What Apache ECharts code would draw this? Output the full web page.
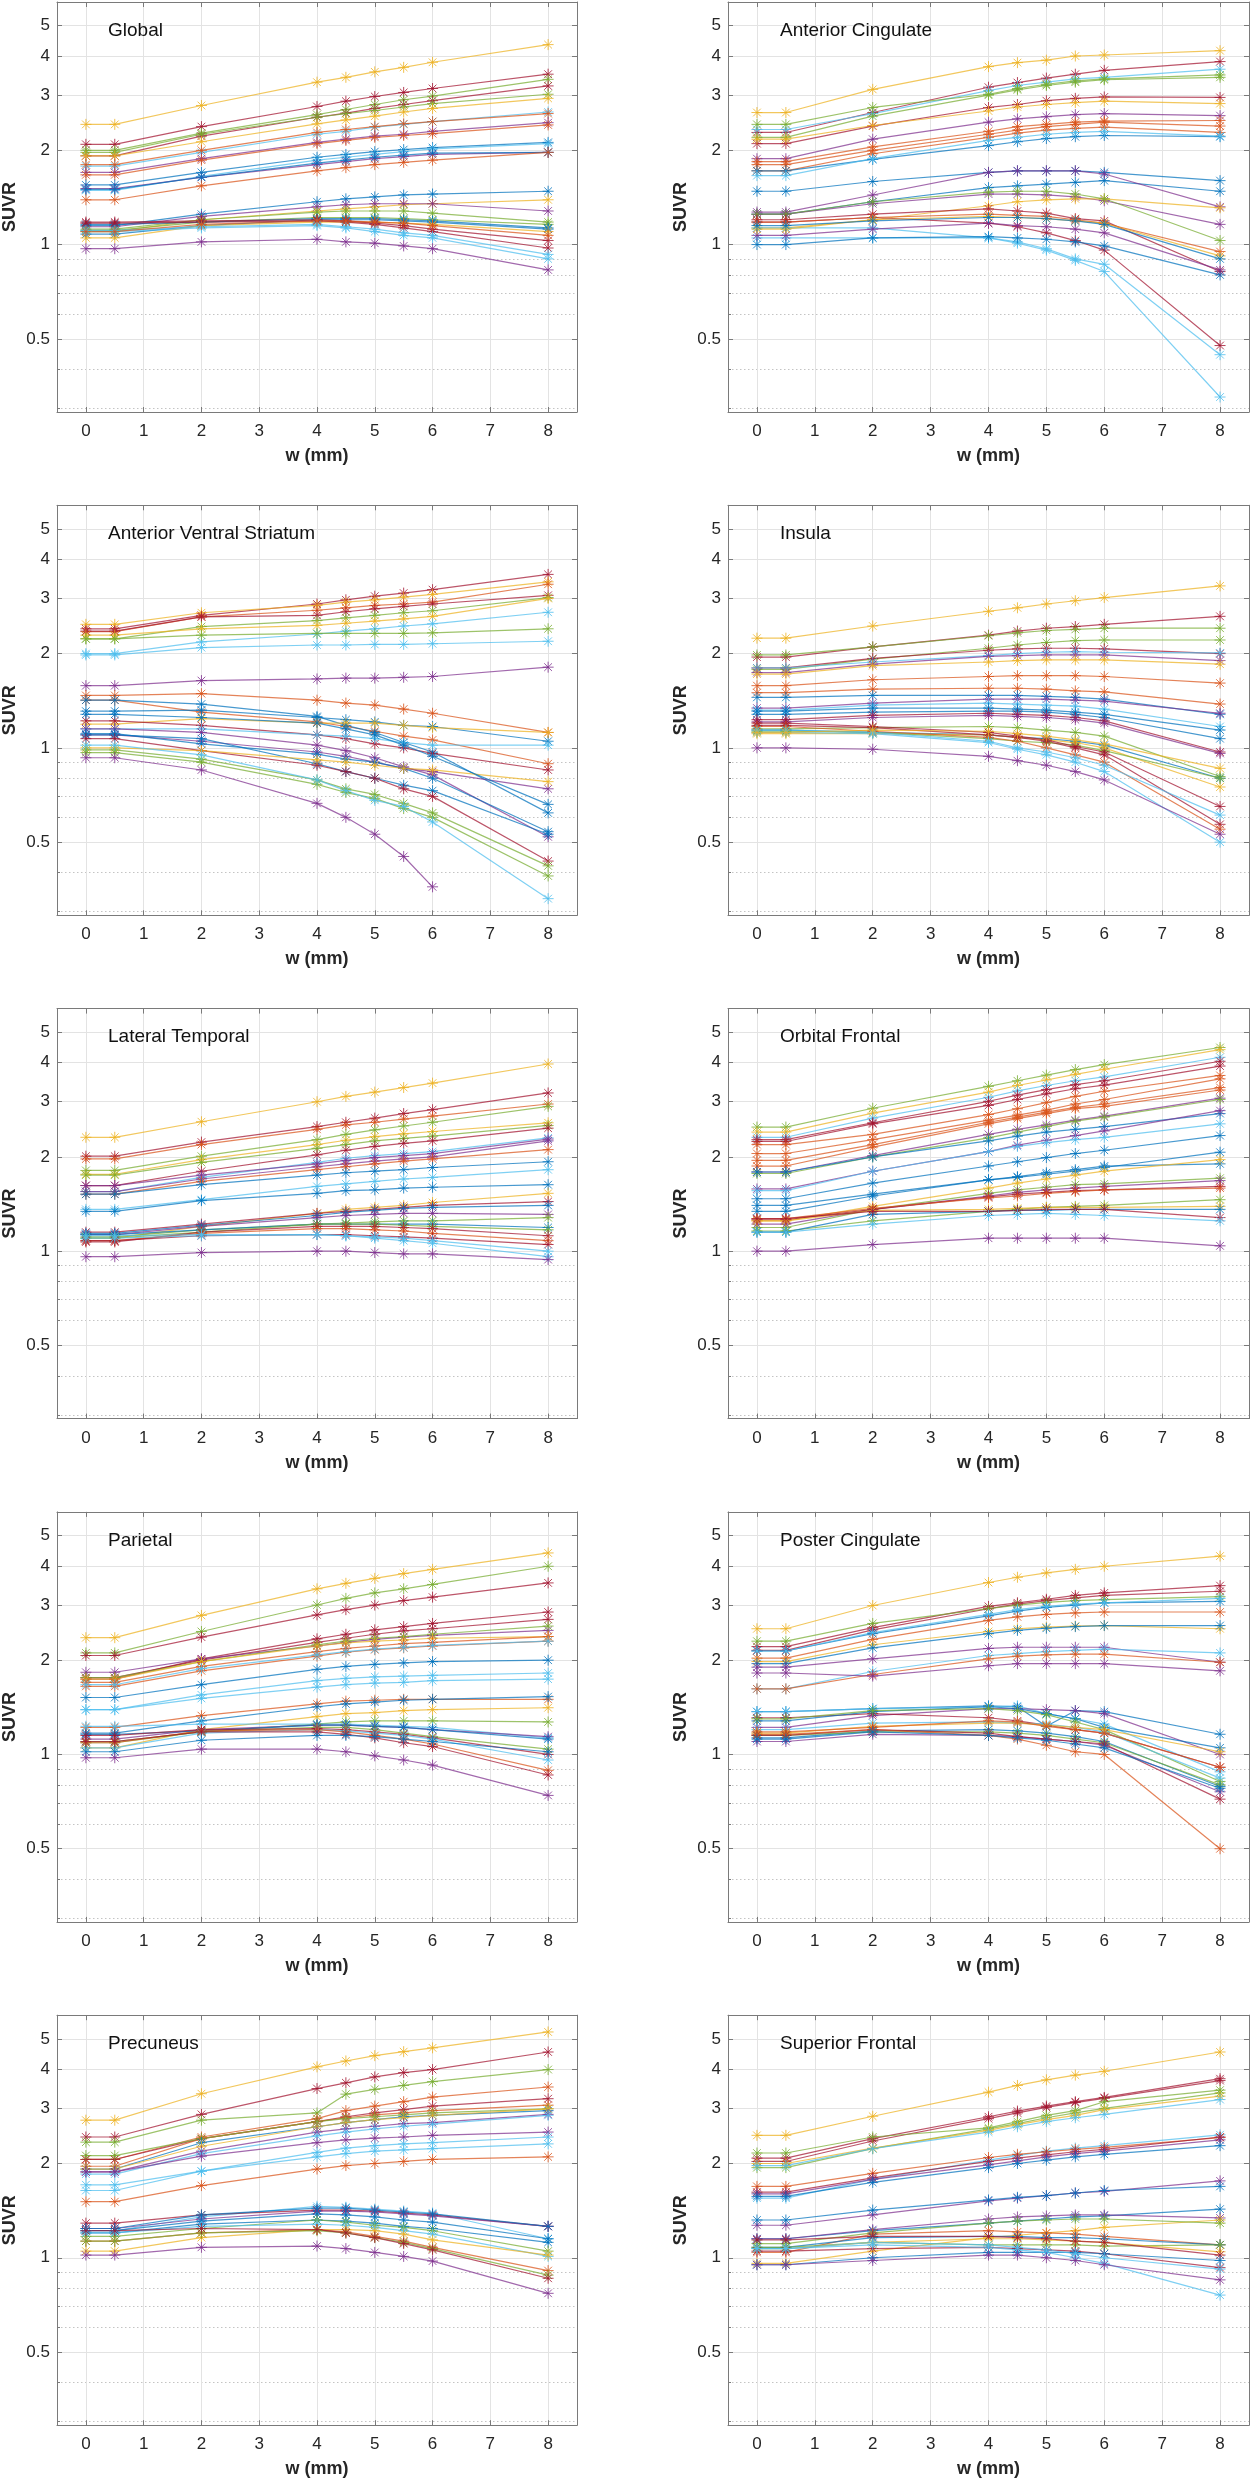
<!DOCTYPE html>
<html>
<head>
<meta charset="utf-8">
<script src="https://cdn.jsdelivr.net/npm/echarts@6/dist/echarts.min.js"></script>
<style>
html,body{margin:0;padding:0;background:#fff;}
#chart{width:1250px;height:2481px;}
</style>
</head>
<body>
<div id="chart"></div>
<script>
// ---------------- DATA ----------------
const wValues = [0, 0.5, 2, 4, 4.5, 5, 5.5, 6, 8];
const xTickValues = [0, 1, 2, 3, 4, 5, 6, 7, 8];
const yTickValues = [0.5, 1, 2, 3, 4, 5];
const yMinorValues = [0.3, 0.4, 0.6, 0.7, 0.8, 0.9];
const regionNames = ['Global', 'Anterior Cingulate', 'Anterior Ventral Striatum', 'Insula',
  'Lateral Temporal', 'Orbital Frontal', 'Parietal', 'Poster Cingulate', 'Precuneus', 'Superior Frontal'];
const xAxisTitle = 'w (mm)';
const yAxisTitle = 'SUVR';

const globalColors = 'YRGRGYLOPOBLPBOBYPGGBBYRRLLPO';
const globalSUVR = [
[2.42,2.42,2.78,3.3,3.42,3.56,3.68,3.82,4.35],
[2.09,2.09,2.38,2.76,2.87,2.97,3.06,3.15,3.5],
[2.0,2.0,2.27,2.6,2.7,2.8,2.9,2.98,3.37],
[1.92,1.92,2.22,2.55,2.63,2.72,2.8,2.88,3.21],
[1.97,1.97,2.25,2.55,2.62,2.68,2.75,2.82,3.02],
[1.92,1.92,2.13,2.43,2.5,2.57,2.65,2.72,2.93],
[1.78,1.78,1.97,2.25,2.3,2.37,2.42,2.47,2.65],
[1.8,1.8,2.0,2.28,2.33,2.38,2.43,2.47,2.62],
[1.7,1.7,1.88,2.12,2.17,2.22,2.25,2.3,2.45],
[1.67,1.67,1.86,2.1,2.15,2.2,2.23,2.26,2.41],
[1.55,1.55,1.7,1.9,1.94,1.98,2.01,2.04,2.12],
[1.49,1.49,1.65,1.86,1.9,1.94,1.98,2.02,2.1],
[1.51,1.51,1.64,1.8,1.84,1.88,1.91,1.94,1.97],
[1.5,1.5,1.64,1.82,1.86,1.9,1.93,1.96,1.97],
[1.39,1.39,1.54,1.72,1.76,1.8,1.83,1.86,1.97],
[1.15,1.15,1.25,1.37,1.4,1.42,1.44,1.45,1.48],
[1.1,1.1,1.2,1.28,1.3,1.32,1.34,1.35,1.39],
[1.14,1.14,1.23,1.32,1.34,1.35,1.35,1.35,1.28],
[1.12,1.12,1.2,1.27,1.28,1.28,1.28,1.26,1.18],
[1.11,1.11,1.18,1.22,1.22,1.22,1.21,1.2,1.16],
[1.16,1.16,1.18,1.21,1.21,1.21,1.2,1.19,1.13],
[1.08,1.08,1.15,1.2,1.2,1.2,1.19,1.18,1.12],
[1.05,1.05,1.15,1.18,1.18,1.18,1.17,1.16,1.1],
[1.18,1.18,1.19,1.2,1.19,1.17,1.15,1.12,1.03],
[1.17,1.17,1.18,1.19,1.18,1.16,1.13,1.1,0.975],
[1.11,1.11,1.14,1.16,1.14,1.12,1.09,1.07,0.93],
[1.1,1.1,1.13,1.15,1.13,1.1,1.07,1.05,0.9],
[0.97,0.97,1.02,1.04,1.02,1.01,0.99,0.97,0.83],
[1.1,1.1,1.16,1.19,1.19,1.18,1.17,1.15,1.07]
];

const antCingColors = 'YRLGGRYPOOOBLBBPPYGRRLLBPOYB';
const antCingSUVR = [
[2.64,2.64,3.13,3.7,3.81,3.88,4.0,4.03,4.16],
[2.28,2.28,2.64,3.18,3.29,3.4,3.5,3.6,3.84],
[2.33,2.33,2.62,3.1,3.22,3.3,3.38,3.42,3.63],
[2.42,2.42,2.74,3.02,3.15,3.25,3.33,3.38,3.48],
[2.2,2.2,2.57,3.0,3.12,3.22,3.3,3.36,3.42],
[2.1,2.1,2.39,2.74,2.8,2.88,2.93,2.96,2.95],
[2.17,2.17,2.4,2.67,2.75,2.8,2.84,2.87,2.82],
[1.88,1.88,2.17,2.46,2.52,2.56,2.6,2.62,2.58],
[1.84,1.84,2.05,2.3,2.38,2.42,2.46,2.48,2.49],
[1.8,1.8,2.0,2.25,2.32,2.38,2.42,2.46,2.39],
[1.72,1.72,1.95,2.2,2.27,2.32,2.35,2.37,2.28],
[1.72,1.72,1.87,2.07,2.13,2.18,2.21,2.23,2.21],
[1.66,1.66,1.88,2.15,2.2,2.25,2.28,2.3,2.22],
[1.48,1.48,1.59,1.7,1.72,1.72,1.72,1.7,1.6],
[1.25,1.25,1.37,1.52,1.54,1.56,1.58,1.6,1.48],
[1.27,1.27,1.44,1.7,1.72,1.72,1.72,1.68,1.32],
[1.25,1.25,1.35,1.45,1.45,1.44,1.42,1.38,1.16],
[1.13,1.13,1.2,1.33,1.37,1.39,1.4,1.4,1.31],
[1.25,1.25,1.37,1.47,1.48,1.48,1.45,1.4,1.03],
[1.2,1.2,1.25,1.3,1.28,1.26,1.21,1.19,0.82],
[1.18,1.18,1.22,1.17,1.14,1.09,1.03,0.96,0.476],
[1.13,1.13,1.13,1.05,1.02,0.97,0.9,0.865,0.445],
[1.05,1.05,1.05,1.05,1.01,0.96,0.89,0.82,0.326],
[1.0,1.0,1.05,1.06,1.05,1.04,1.02,0.99,0.8],
[1.07,1.07,1.12,1.17,1.15,1.14,1.12,1.09,0.83],
[1.18,1.18,1.22,1.25,1.24,1.23,1.2,1.17,0.95],
[1.12,1.12,1.2,1.23,1.22,1.21,1.19,1.17,0.92],
[1.15,1.15,1.19,1.22,1.22,1.21,1.19,1.16,0.9]
];

const avsColors = 'RYORGYLGLPOOBBYRLPPBBRYGGLPB';
const avsSUVR = [
[2.4,2.4,2.65,2.88,2.97,3.05,3.12,3.2,3.58],
[2.48,2.48,2.7,2.85,2.92,2.97,3.03,3.09,3.39],
[2.35,2.35,2.62,2.75,2.8,2.85,2.88,2.92,3.33],
[2.36,2.36,2.62,2.65,2.72,2.78,2.83,2.88,3.07],
[2.23,2.23,2.44,2.55,2.6,2.65,2.7,2.74,3.02],
[2.29,2.29,2.4,2.46,2.5,2.54,2.58,2.63,3.0],
[2.0,2.0,2.18,2.31,2.36,2.4,2.45,2.49,2.71],
[2.23,2.23,2.29,2.32,2.32,2.32,2.32,2.33,2.4],
[1.98,1.98,2.09,2.13,2.13,2.14,2.14,2.15,2.19],
[1.58,1.58,1.64,1.66,1.67,1.67,1.68,1.69,1.81],
[1.47,1.47,1.49,1.42,1.39,1.37,1.33,1.29,1.12],
[1.42,1.42,1.3,1.21,1.17,1.13,1.09,1.06,0.89],
[1.42,1.42,1.38,1.26,1.18,1.12,1.04,0.97,0.62],
[1.31,1.31,1.32,1.25,1.23,1.21,1.18,1.17,1.05],
[1.19,1.19,1.24,1.2,1.2,1.2,1.18,1.16,1.12],
[1.22,1.22,1.18,1.1,1.07,1.03,1.0,0.96,0.85],
[1.15,1.15,1.15,1.1,1.09,1.07,1.04,1.02,1.02],
[1.15,1.15,1.12,1.02,0.98,0.93,0.87,0.82,0.52],
[1.1,1.1,1.05,0.97,0.94,0.9,0.86,0.84,0.74],
[1.11,1.11,1.03,0.955,0.92,0.9,0.86,0.8,0.54],
[1.1,1.1,1.07,0.89,0.84,0.8,0.76,0.73,0.53],
[1.07,1.07,0.98,0.88,0.84,0.8,0.74,0.7,0.435],
[1.0,1.0,0.98,0.915,0.9,0.88,0.86,0.85,0.78],
[0.985,0.985,0.92,0.79,0.74,0.71,0.665,0.62,0.42],
[0.966,0.966,0.9,0.765,0.72,0.69,0.64,0.6,0.39],
[1.02,1.02,0.95,0.79,0.73,0.68,0.65,0.58,0.33],
[0.93,0.93,0.85,0.665,0.6,0.53,0.45,0.36,null],
[1.28,1.28,1.25,1.2,1.15,1.1,1.02,0.94,0.66]
];

const insulaColors = 'YRGGRLPYOOBPLBBRPGBYGRROLLPY';
const insulaSUVR = [
[2.24,2.24,2.45,2.73,2.8,2.88,2.95,3.02,3.29],
[1.95,1.95,2.1,2.29,2.36,2.41,2.44,2.48,2.63],
[1.98,1.98,2.1,2.28,2.33,2.37,2.39,2.41,2.41],
[1.78,1.78,1.92,2.08,2.13,2.17,2.2,2.21,2.21],
[1.8,1.8,1.93,2.05,2.07,2.08,2.08,2.07,2.0],
[1.8,1.8,1.88,1.97,2.0,2.02,2.03,2.02,2.01],
[1.74,1.74,1.85,1.96,1.97,1.98,1.98,1.98,1.9],
[1.72,1.72,1.83,1.88,1.9,1.91,1.91,1.91,1.85],
[1.58,1.58,1.65,1.69,1.7,1.7,1.7,1.69,1.61],
[1.5,1.5,1.54,1.55,1.55,1.54,1.52,1.51,1.38],
[1.45,1.45,1.47,1.47,1.47,1.46,1.45,1.43,1.28],
[1.34,1.34,1.39,1.43,1.43,1.43,1.42,1.41,1.29],
[1.32,1.32,1.37,1.39,1.38,1.37,1.36,1.33,1.17],
[1.31,1.31,1.34,1.34,1.33,1.32,1.3,1.28,1.14],
[1.28,1.28,1.3,1.31,1.31,1.3,1.28,1.25,1.07],
[1.23,1.23,1.27,1.29,1.28,1.27,1.25,1.22,0.97],
[1.21,1.21,1.25,1.27,1.26,1.25,1.23,1.2,0.96],
[1.15,1.15,1.16,1.17,1.16,1.14,1.12,1.09,0.81],
[1.14,1.14,1.12,1.1,1.08,1.07,1.05,1.02,0.8],
[1.11,1.11,1.11,1.1,1.08,1.06,1.04,1.0,0.75],
[1.13,1.13,1.12,1.07,1.05,1.04,1.02,0.98,0.8],
[1.18,1.18,1.16,1.1,1.08,1.05,1.0,0.95,0.57],
[1.2,1.2,1.17,1.12,1.09,1.06,1.01,0.97,0.65],
[1.17,1.17,1.13,1.08,1.05,1.0,0.95,0.9,0.55],
[1.14,1.14,1.12,1.05,1.0,0.97,0.93,0.88,0.61],
[1.12,1.12,1.11,1.04,0.99,0.95,0.9,0.84,0.5],
[1.0,1.0,0.99,0.94,0.91,0.88,0.84,0.79,0.53],
[1.12,1.12,1.14,1.13,1.11,1.09,1.06,1.03,0.86]
];

const latTempColors = 'YROGYGRLPPOBLBYRBPGBGRORLLP';
const latTempSUVR = [
[2.31,2.31,2.59,3.0,3.12,3.22,3.33,3.44,3.96],
[2.01,2.01,2.23,2.5,2.58,2.66,2.75,2.83,3.2],
[1.97,1.97,2.19,2.45,2.53,2.58,2.64,2.7,2.95],
[1.81,1.81,2.01,2.27,2.36,2.44,2.51,2.58,2.9],
[1.76,1.76,1.96,2.19,2.26,2.32,2.37,2.41,2.57],
[1.75,1.75,1.92,2.13,2.19,2.25,2.29,2.33,2.52],
[1.62,1.62,1.8,2.03,2.1,2.16,2.21,2.25,2.47],
[1.55,1.55,1.72,1.92,1.98,2.02,2.05,2.08,2.3],
[1.62,1.62,1.75,1.9,1.95,1.99,2.02,2.05,2.28],
[1.55,1.55,1.7,1.86,1.9,1.94,1.97,2.0,2.25],
[1.52,1.52,1.67,1.82,1.86,1.9,1.94,1.97,2.11],
[1.52,1.52,1.63,1.75,1.78,1.8,1.82,1.85,1.93],
[1.36,1.36,1.46,1.61,1.64,1.67,1.7,1.72,1.82],
[1.34,1.34,1.45,1.53,1.56,1.57,1.59,1.6,1.63],
[1.1,1.1,1.2,1.32,1.36,1.38,1.4,1.43,1.53],
[1.15,1.15,1.22,1.32,1.34,1.36,1.38,1.4,1.44],
[1.14,1.14,1.21,1.3,1.33,1.35,1.37,1.38,1.4],
[1.13,1.13,1.2,1.28,1.3,1.31,1.32,1.32,1.31],
[1.11,1.11,1.17,1.22,1.23,1.24,1.25,1.25,1.28],
[1.13,1.13,1.17,1.22,1.22,1.22,1.22,1.22,1.19],
[1.1,1.1,1.15,1.22,1.22,1.22,1.21,1.2,1.17],
[1.07,1.07,1.15,1.2,1.2,1.2,1.19,1.18,1.12],
[1.08,1.08,1.14,1.18,1.18,1.17,1.16,1.14,1.08],
[1.08,1.08,1.12,1.13,1.13,1.12,1.11,1.1,1.05],
[1.1,1.1,1.12,1.13,1.12,1.11,1.1,1.08,1.0],
[1.12,1.12,1.13,1.13,1.12,1.1,1.08,1.06,0.96],
[0.96,0.96,0.99,1.0,1.0,0.99,0.98,0.98,0.94]
];

const orbFrontColors = 'GYLRROOOOPGBPLBBBYGPROGYBRLP';
const orbFrontSUVR = [
[2.49,2.49,2.86,3.36,3.5,3.65,3.8,3.94,4.47],
[2.4,2.4,2.76,3.22,3.38,3.52,3.67,3.81,4.4],
[2.31,2.31,2.66,3.1,3.25,3.38,3.5,3.6,4.16],
[2.27,2.27,2.57,3.01,3.15,3.28,3.4,3.5,4.04],
[2.24,2.24,2.55,2.92,3.05,3.18,3.3,3.39,3.9],
[2.19,2.19,2.36,2.73,2.85,2.98,3.12,3.24,3.64],
[2.05,2.05,2.27,2.62,2.72,2.82,2.95,3.05,3.55],
[1.95,1.95,2.19,2.58,2.68,2.78,2.88,2.95,3.33],
[1.87,1.87,2.15,2.55,2.65,2.75,2.85,2.9,3.27],
[1.79,1.79,2.02,2.36,2.45,2.53,2.62,2.7,3.08],
[1.77,1.77,2.0,2.3,2.4,2.5,2.6,2.68,3.05],
[1.79,1.79,2.0,2.25,2.33,2.4,2.45,2.5,2.75],
[1.58,1.58,1.8,2.08,2.18,2.26,2.34,2.42,2.81],
[1.56,1.56,1.8,2.08,2.16,2.22,2.27,2.31,2.55],
[1.47,1.47,1.65,1.87,1.93,1.99,2.05,2.1,2.34],
[1.4,1.4,1.52,1.69,1.72,1.76,1.8,1.85,2.07],
[1.34,1.34,1.5,1.69,1.73,1.78,1.82,1.87,1.9],
[1.25,1.25,1.39,1.59,1.65,1.7,1.75,1.8,1.96],
[1.19,1.19,1.36,1.53,1.57,1.6,1.63,1.64,1.71],
[1.22,1.22,1.36,1.5,1.54,1.57,1.59,1.61,1.68],
[1.26,1.26,1.36,1.49,1.52,1.54,1.56,1.57,1.61],
[1.27,1.27,1.37,1.48,1.5,1.53,1.55,1.57,1.59],
[1.16,1.16,1.25,1.34,1.36,1.38,1.39,1.4,1.46],
[1.25,1.25,1.35,1.36,1.37,1.38,1.38,1.38,1.39],
[1.15,1.15,1.31,1.34,1.35,1.35,1.36,1.36,1.36],
[1.27,1.27,1.34,1.34,1.35,1.36,1.36,1.36,1.28],
[1.15,1.15,1.22,1.3,1.31,1.32,1.31,1.3,1.25],
[1.0,1.0,1.05,1.1,1.1,1.1,1.1,1.1,1.04]
];

const parietalColors = 'YGRRRPGYOOLBLLOBYGLPBGRLORBP';
const parietalSUVR = [
[2.36,2.36,2.78,3.38,3.52,3.65,3.78,3.9,4.4],
[2.11,2.11,2.47,3.0,3.15,3.28,3.38,3.49,3.99],
[2.07,2.07,2.37,2.79,2.9,3.0,3.1,3.18,3.53],
[1.74,1.74,2.02,2.34,2.42,2.5,2.56,2.62,2.85],
[1.76,1.76,2.0,2.28,2.35,2.42,2.48,2.52,2.7],
[1.83,1.83,2.02,2.22,2.28,2.33,2.37,2.4,2.49],
[1.76,1.76,1.98,2.24,2.3,2.35,2.38,2.42,2.57],
[1.74,1.74,1.98,2.22,2.27,2.3,2.32,2.35,2.38],
[1.7,1.7,1.91,2.13,2.18,2.22,2.26,2.28,2.38],
[1.65,1.65,1.85,2.06,2.12,2.16,2.19,2.22,2.3],
[1.67,1.67,1.88,2.08,2.13,2.17,2.2,2.23,2.3],
[1.52,1.52,1.67,1.87,1.91,1.94,1.96,1.98,2.0],
[1.39,1.39,1.55,1.72,1.75,1.77,1.78,1.79,1.82],
[1.39,1.39,1.51,1.64,1.67,1.69,1.7,1.72,1.74],
[1.22,1.22,1.33,1.45,1.48,1.49,1.5,1.5,1.5],
[1.17,1.17,1.28,1.42,1.45,1.47,1.49,1.5,1.53],
[1.05,1.05,1.2,1.32,1.35,1.36,1.38,1.39,1.41],
[1.1,1.1,1.18,1.25,1.27,1.28,1.28,1.28,1.27],
[1.23,1.23,1.25,1.25,1.25,1.24,1.23,1.22,1.13],
[1.12,1.12,1.2,1.24,1.24,1.23,1.22,1.2,1.14],
[1.16,1.16,1.19,1.24,1.24,1.23,1.22,1.2,1.12],
[1.09,1.09,1.18,1.22,1.22,1.2,1.17,1.14,1.04],
[1.15,1.15,1.2,1.21,1.2,1.18,1.16,1.13,1.0],
[1.05,1.05,1.17,1.2,1.19,1.17,1.15,1.12,0.96],
[1.09,1.09,1.19,1.2,1.18,1.15,1.12,1.08,0.89],
[1.1,1.1,1.18,1.18,1.16,1.13,1.09,1.06,0.86],
[1.02,1.02,1.11,1.15,1.15,1.14,1.12,1.1,1.02],
[0.976,0.976,1.04,1.04,1.02,0.99,0.96,0.925,0.74]
];

const postCingColors = 'YRRGBLOYBPLOPBLPRBGLYOBGPROB';
const postCingSUVR = [
[2.52,2.52,2.99,3.54,3.68,3.8,3.9,3.99,4.3],
[2.21,2.21,2.54,2.97,3.05,3.13,3.22,3.28,3.46],
[2.15,2.15,2.5,2.92,3.02,3.1,3.16,3.22,3.32],
[2.3,2.3,2.62,2.92,3.0,3.06,3.1,3.12,3.19],
[2.14,2.14,2.43,2.77,2.87,2.95,3.0,3.05,3.08],
[2.14,2.14,2.45,2.8,2.9,2.97,3.02,3.05,3.15],
[2.03,2.03,2.33,2.68,2.75,2.8,2.83,2.85,2.85],
[1.98,1.98,2.24,2.47,2.52,2.55,2.57,2.58,2.52],
[1.95,1.95,2.19,2.43,2.49,2.53,2.56,2.58,2.58],
[1.9,1.9,2.02,2.18,2.2,2.2,2.2,2.2,1.97],
[1.62,1.62,1.84,2.07,2.1,2.13,2.15,2.17,2.11],
[1.62,1.62,1.8,2.02,2.06,2.08,2.09,2.09,1.97],
[1.82,1.82,1.78,1.92,1.95,1.95,1.95,1.95,1.85],
[1.37,1.37,1.4,1.43,1.42,1.23,1.38,1.37,1.16],
[1.37,1.37,1.4,1.42,1.43,1.35,1.3,1.25,0.88],
[1.22,1.22,1.33,1.4,1.4,1.39,1.38,1.35,1.0],
[1.31,1.31,1.35,1.31,1.28,1.24,1.2,1.17,0.91],
[1.28,1.28,1.37,1.42,1.4,1.35,1.3,1.22,1.05],
[1.3,1.3,1.38,1.4,1.38,1.34,1.27,1.2,0.82],
[1.2,1.2,1.26,1.27,1.26,1.25,1.22,1.18,0.84],
[1.17,1.17,1.23,1.26,1.26,1.24,1.22,1.2,1.02],
[1.18,1.18,1.22,1.28,1.27,1.23,1.2,1.17,0.91],
[1.13,1.13,1.19,1.2,1.19,1.17,1.14,1.1,0.79],
[1.15,1.15,1.18,1.18,1.17,1.15,1.12,1.09,0.8],
[1.1,1.1,1.16,1.15,1.14,1.12,1.1,1.07,0.76],
[1.15,1.15,1.2,1.17,1.14,1.12,1.1,1.08,0.72],
[1.16,1.16,1.2,1.15,1.12,1.07,1.02,1.0,0.5],
[1.12,1.12,1.18,1.15,1.13,1.11,1.08,1.05,0.78]
];

const precuneusColors = 'YRGOROGBYPLPLLOLRPBBBGLYOGRP';
const precuneusSUVR = [
[2.75,2.75,3.34,4.07,4.25,4.42,4.55,4.68,5.26],
[2.43,2.43,2.87,3.47,3.62,3.78,3.9,3.99,4.54],
[2.34,2.34,2.75,2.9,3.33,3.45,3.55,3.65,3.99],
[2.06,2.06,2.43,2.78,2.95,3.05,3.15,3.26,3.51],
[2.06,2.06,2.4,2.72,2.82,2.9,2.97,3.05,3.22],
[1.96,1.96,2.4,2.72,2.8,2.86,2.9,2.95,3.07],
[2.12,2.12,2.4,2.72,2.78,2.82,2.86,2.9,2.99],
[1.92,1.92,2.33,2.62,2.7,2.76,2.82,2.85,2.95],
[1.92,1.92,2.27,2.62,2.7,2.76,2.8,2.85,2.99],
[1.88,1.88,2.19,2.52,2.58,2.63,2.68,2.7,2.87],
[1.85,1.85,2.15,2.45,2.52,2.58,2.63,2.67,2.85],
[1.88,1.88,2.11,2.33,2.38,2.41,2.43,2.46,2.52],
[1.71,1.71,1.89,2.17,2.24,2.28,2.31,2.33,2.43],
[1.64,1.64,1.89,2.1,2.15,2.19,2.21,2.23,2.31],
[1.51,1.51,1.7,1.92,1.97,2.0,2.03,2.06,2.1],
[1.22,1.22,1.35,1.46,1.45,1.43,1.41,1.39,1.15],
[1.29,1.29,1.37,1.42,1.42,1.41,1.39,1.37,1.26],
[1.24,1.24,1.33,1.41,1.41,1.4,1.38,1.36,1.26],
[1.24,1.24,1.37,1.44,1.44,1.42,1.4,1.38,1.26],
[1.22,1.22,1.31,1.38,1.37,1.35,1.32,1.3,1.15],
[1.2,1.2,1.28,1.32,1.31,1.29,1.26,1.24,1.12],
[1.17,1.17,1.24,1.32,1.3,1.27,1.25,1.22,1.05],
[1.2,1.2,1.26,1.28,1.27,1.25,1.22,1.19,1.01],
[1.05,1.05,1.16,1.23,1.23,1.22,1.19,1.14,1.02],
[1.13,1.13,1.2,1.23,1.21,1.17,1.13,1.08,0.91],
[1.13,1.13,1.2,1.22,1.2,1.16,1.12,1.07,0.88],
[1.22,1.22,1.24,1.23,1.2,1.16,1.11,1.06,0.86],
[1.02,1.02,1.08,1.09,1.07,1.04,1.01,0.976,0.77]
];

const supFrontColors = 'YRRGGYLLORPBPBBPYGOBGYRRBLLP';
const supFrontSUVR = [
[2.46,2.46,2.83,3.38,3.55,3.7,3.83,3.94,4.54],
[2.08,2.08,2.4,2.82,2.94,3.05,3.15,3.25,3.73],
[2.03,2.03,2.36,2.78,2.9,3.02,3.13,3.23,3.68],
[2.16,2.16,2.43,2.6,2.72,2.85,2.95,3.15,3.43],
[1.94,1.94,2.23,2.58,2.68,2.8,2.9,3.0,3.36],
[2.0,2.0,2.24,2.55,2.66,2.76,2.85,2.97,3.28],
[1.97,1.97,2.23,2.52,2.62,2.72,2.8,2.87,3.2],
[1.55,1.55,1.78,2.05,2.12,2.19,2.24,2.28,2.47],
[1.69,1.69,1.86,2.09,2.14,2.18,2.22,2.25,2.42],
[1.62,1.62,1.8,2.03,2.08,2.13,2.18,2.22,2.43],
[1.6,1.6,1.78,1.98,2.04,2.1,2.15,2.19,2.38],
[1.57,1.57,1.74,1.94,2.0,2.05,2.1,2.14,2.28],
[1.27,1.27,1.37,1.52,1.55,1.58,1.61,1.63,1.76],
[1.32,1.32,1.42,1.53,1.56,1.58,1.61,1.64,1.69],
[1.15,1.15,1.22,1.29,1.31,1.33,1.35,1.36,1.43],
[1.15,1.15,1.23,1.33,1.35,1.36,1.37,1.37,1.34],
[0.96,0.96,1.05,1.16,1.18,1.2,1.22,1.25,1.32],
[1.11,1.11,1.2,1.29,1.31,1.32,1.33,1.33,1.29],
[1.04,1.04,1.19,1.22,1.21,1.2,1.19,1.17,1.1],
[1.08,1.08,1.16,1.17,1.17,1.16,1.16,1.15,1.1],
[1.08,1.08,1.12,1.1,1.1,1.1,1.1,1.09,1.1],
[1.07,1.07,1.12,1.15,1.15,1.14,1.13,1.12,1.045],
[1.14,1.14,1.17,1.17,1.16,1.15,1.13,1.12,1.02],
[1.05,1.05,1.07,1.08,1.07,1.06,1.05,1.03,0.93],
[0.95,0.95,1.0,1.04,1.04,1.04,1.04,1.03,0.98],
[1.07,1.07,1.1,1.08,1.06,1.04,1.0,0.96,0.76],
[1.07,1.07,1.12,1.1,1.08,1.06,1.03,1.0,0.92],
[0.95,0.95,0.98,1.02,1.02,1.0,0.98,0.95,0.85]
];

const panelSUVR = [globalSUVR, antCingSUVR, avsSUVR, insulaSUVR, latTempSUVR,
  orbFrontSUVR, parietalSUVR, postCingSUVR, precuneusSUVR, supFrontSUVR];
const panelColors = [globalColors, antCingColors, avsColors, insulaColors, latTempColors,
  orbFrontColors, parietalColors, postCingColors, precuneusColors, supFrontColors];

// ---------------- STYLE / LAYOUT ----------------
const palette = {B:'#0072BD', O:'#D95319', Y:'#EDB120', P:'#7E2F8E', G:'#77AC30', L:'#4DBEEE', R:'#A2142F'};
const FONT = '"Liberation Sans", Arial, Helvetica, sans-serif';
const yLo = 0.292, yHi = 5.95;
const W = 521, H = 410;
const colLeft = [56, 728];
const rowTop = [2, 505.3, 1008.6, 1511.9, 2015.2];
const boxColor = '#7a7a7a';
const gridColor = '#e3e3e3';
const textColor = '#262626';
const asterisk = 'path://M0 50L100 50M50 0L50 100M15 15L85 85M85 15L15 85';

const grids = [], xAxes = [], yAxes = [], series = [], titles = [];
const log2 = Math.log2;
const yMajorPos = yTickValues.map(log2);
const yMinorPos = yMinorValues.map(log2);

for (let i = 0; i < 10; i++) {
  const col = i % 2, row = Math.floor(i / 2);
  const left = colLeft[col], top = rowTop[row];
  grids.push({left: left, top: top, width: W, height: H, containLabel: false});
  titles.push({text: regionNames[i], left: left + 52, top: top + 19, padding: 0,
    textStyle: {fontFamily: FONT, fontSize: 19, fontWeight: 'normal', color: '#111'}});
  // bottom x
  xAxes.push({type: 'value', gridIndex: i, position: 'bottom', min: -0.5, max: 8.5,
    name: xAxisTitle, nameLocation: 'middle', nameGap: 35,
    nameTextStyle: {fontFamily: FONT, fontSize: 18, fontWeight: 'bold', color: textColor},
    axisLine: {show: true, onZero: false, lineStyle: {color: boxColor, width: 1}},
    axisTick: {show: true, inside: true, length: 5, customValues: xTickValues, lineStyle: {color: boxColor}},
    axisLabel: {show: true, customValues: xTickValues, margin: 11, fontFamily: FONT, fontSize: 17, color: textColor},
    splitLine: {show: true, lineStyle: {color: gridColor, width: 1}}});
  // top x (box)
  xAxes.push({type: 'value', gridIndex: i, position: 'top', min: -0.5, max: 8.5,
    axisLine: {show: true, onZero: false, lineStyle: {color: boxColor, width: 1}},
    axisTick: {show: true, inside: true, length: 5, customValues: xTickValues, lineStyle: {color: boxColor}},
    axisLabel: {show: false}, splitLine: {show: false}});
  // data axis (log)
  yAxes.push({type: 'log', gridIndex: i, logBase: 10, min: yLo, max: yHi, show: false,
    axisLine: {onZero: false}, splitLine: {show: false}});
  // minor dotted grid (drawn first, below majors)
  yAxes.push({type: 'value', gridIndex: i, position: 'left', min: log2(yLo), max: log2(yHi),
    axisLine: {show: false, onZero: false},
    axisTick: {show: true, inside: true, length: 3, customValues: yMinorPos, lineStyle: {color: boxColor}},
    axisLabel: {show: false},
    splitLine: {show: true, lineStyle: {color: '#c4c4c4', width: 1, type: [1.5, 2.5]}}});
  // major left (log2 space decoration)
  yAxes.push({type: 'value', gridIndex: i, position: 'left', min: log2(yLo), max: log2(yHi),
    name: yAxisTitle, nameLocation: 'middle', nameGap: 38, nameRotate: 90,
    nameTextStyle: {fontFamily: FONT, fontSize: 18, fontWeight: 'bold', color: textColor},
    axisLine: {show: true, onZero: false, lineStyle: {color: boxColor, width: 1}},
    axisTick: {show: true, inside: true, length: 5, customValues: yMajorPos, lineStyle: {color: boxColor}},
    axisLabel: {show: true, customValues: yMajorPos, margin: 7, fontFamily: FONT, fontSize: 17, color: textColor,
      formatter: function (v) {
        for (const t of yTickValues) { if (Math.abs(log2(t) - v) < 1e-6) return String(t); }
        return '';
      }},
    splitLine: {show: true, lineStyle: {color: gridColor, width: 1}}});
  // right (box)
  yAxes.push({type: 'value', gridIndex: i, position: 'right', min: log2(yLo), max: log2(yHi),
    axisLine: {show: true, onZero: false, lineStyle: {color: boxColor, width: 1}},
    axisTick: {show: true, inside: true, length: 5, customValues: yMajorPos, lineStyle: {color: boxColor}},
    axisLabel: {show: false}, splitLine: {show: false}});

  const rows = panelSUVR[i], cols = panelColors[i];
  rows.forEach(function (vals, k) {
    const c = palette[cols[k]];
    series.push({type: 'line', xAxisIndex: 2 * i, yAxisIndex: 4 * i,
      data: vals.map(function (v, j) { return [wValues[j], v === null ? '-' : v]; }),
      symbol: asterisk, symbolSize: 11, showAllSymbol: true,
      lineStyle: {color: c, width: 1.2, opacity: 0.72},
      itemStyle: {color: 'rgba(0,0,0,0)', borderColor: c, borderWidth: 1, opacity: 0.8},
      emphasis: {disabled: true}, silent: true, animation: false, z: 3});
  });
}

const chart = echarts.init(document.getElementById('chart'), null, {renderer: 'canvas'});
chart.setOption({
  backgroundColor: '#ffffff',
  animation: false,
  title: titles,
  grid: grids,
  xAxis: xAxes,
  yAxis: yAxes,
  series: series
});
</script>
</body>
</html>
